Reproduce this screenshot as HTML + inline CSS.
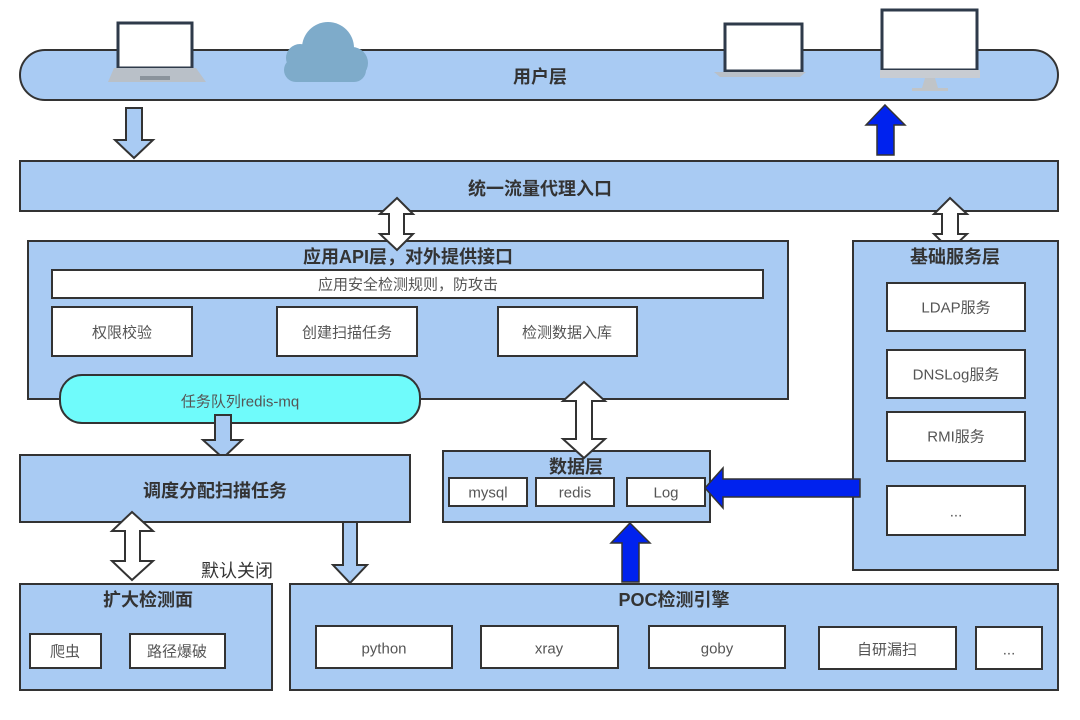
<!DOCTYPE html>
<html><head><meta charset="utf-8"><style>
html,body{margin:0;padding:0;background:#fff}
svg{display:block}
text{font-family:"Liberation Sans","Noto Sans CJK SC",sans-serif;text-anchor:middle;dominant-baseline:central}
.b{fill:#a9cbf3;stroke:#333;stroke-width:2}
.w{fill:#fff;stroke:#333;stroke-width:2}
.t{font-size:18px;font-weight:bold;fill:#333}
.s{font-size:15px;fill:#555}
</style></head><body>
<svg width="1080" height="720" viewBox="0 0 1080 720">
<rect x="20" y="50" width="1038" height="50" rx="25" class="b"/>
<text x="540" y="77" class="t">用户层</text>
<rect x="118" y="23" width="74" height="45" fill="#fff" stroke="#2e3a4a" stroke-width="3"/>
<polygon points="114,68 196,68 206,82 108,82" fill="#b9c0c8"/>
<rect x="140" y="76" width="30" height="4" fill="#8a939c"/>
<g fill="#7eabca"><circle cx="300" cy="58" r="14"/><circle cx="328" cy="48" r="26"/><circle cx="352" cy="63" r="16"/><rect x="284" y="58" width="82" height="24" rx="12"/></g>
<rect x="725" y="24" width="77" height="47" fill="#fff" stroke="#2e3a4a" stroke-width="3"/>
<polygon points="714,72 806,72 800,77 720,77" fill="#b9c0c8"/>
<rect x="882" y="10" width="95" height="60" fill="#fff" stroke="#2e3a4a" stroke-width="3"/>
<rect x="880" y="70" width="100" height="8" fill="#c8ccd2"/>
<polygon points="925,78 935,78 938,88 922,88" fill="#c0c4c8"/>
<rect x="912" y="88" width="36" height="3" fill="#c0c4c8"/>
<polygon points="126,108 142,108 142,140 153,140 134,158 115,140 126,140" class="b"/>
<polygon points="885,105 905,125 894,125 894,155 877,155 877,125 866,125" fill="#0022ee" stroke="#333" stroke-width="1.5"/>
<rect x="20" y="161" width="1038" height="50" class="b"/>
<text x="540" y="189" class="t">统一流量代理入口</text>
<rect x="28" y="241" width="760" height="158" class="b"/>
<text x="408" y="257" class="t">应用API层，对外提供接口</text>
<rect x="52" y="270" width="711" height="28" class="w"/>
<text x="408" y="285" class="s">应用安全检测规则，防攻击</text>
<rect x="52" y="307" width="140" height="49" class="w"/><text x="122" y="333" class="s">权限校验</text>
<rect x="277" y="307" width="140" height="49" class="w"/><text x="347" y="333" class="s">创建扫描任务</text>
<rect x="498" y="307" width="139" height="49" class="w"/><text x="567" y="333" class="s">检测数据入库</text>
<rect x="60" y="375" width="360" height="48" rx="22" fill="#6ffbfb" stroke="#333" stroke-width="2"/>
<text x="240" y="402" class="s" fill="#444">任务队列redis-mq</text>
<polygon points="397,198 413,214 404,214 404,234 413,234 397,250 380,234 389,234 389,214 380,214" class="w"/>
<polygon points="950,198 967,214 958,214 958,234 967,234 950,250 934,234 942,234 942,214 934,214" class="w"/>
<rect x="853" y="241" width="205" height="329" class="b"/>
<text x="955" y="257" class="t">基础服务层</text>
<rect x="887" y="283" width="138" height="48" class="w"/><text x="956" y="308" class="s">LDAP服务</text>
<rect x="887" y="350" width="138" height="48" class="w"/><text x="956" y="375" class="s">DNSLog服务</text>
<rect x="887" y="412" width="138" height="49" class="w"/><text x="956" y="437" class="s">RMI服务</text>
<rect x="887" y="486" width="138" height="49" class="w"/><text x="956" y="512" class="s">...</text>
<polygon points="215,415 231,415 231,440 242,440 223,458 203,440 215,440" class="b"/>
<rect x="20" y="455" width="390" height="67" class="b"/>
<text x="215" y="491" class="t">调度分配扫描任务</text>
<rect x="443" y="451" width="267" height="71" class="b"/>
<text x="576" y="467" class="t">数据层</text>
<rect x="449" y="478" width="78" height="28" class="w"/><text x="488" y="493" class="s">mysql</text>
<rect x="536" y="478" width="78" height="28" class="w"/><text x="575" y="493" class="s">redis</text>
<rect x="627" y="478" width="78" height="28" class="w"/><text x="666" y="493" class="s">Log</text>
<polygon points="584,382 605,401 592,401 592,439 605,439 584,458 563,439 576,439 576,401 563,401" class="w"/>
<polygon points="705,488 723,468 723,479 860,479 860,497 723,497 723,508" fill="#0022ee" stroke="#333" stroke-width="1.5"/>
<polygon points="630,523 650,543 639,543 639,582 622,582 622,543 611,543" fill="#0022ee" stroke="#333" stroke-width="1.5"/>
<polygon points="132,512 153,531 140,531 140,561 153,561 132,580 112,561 125,561 125,531 112,531" class="w"/>
<text x="237" y="571" style="font-size:18px;fill:#333">默认关闭</text>
<polygon points="343,522 357,522 357,565 367,565 350,583 333,565 343,565" class="b"/>
<rect x="20" y="584" width="252" height="106" class="b"/>
<text x="148" y="600" class="t">扩大检测面</text>
<rect x="30" y="634" width="71" height="34" class="w"/><text x="65" y="652" class="s">爬虫</text>
<rect x="130" y="634" width="95" height="34" class="w"/><text x="177" y="652" class="s">路径爆破</text>
<rect x="290" y="584" width="768" height="106" class="b"/>
<text x="674" y="600" class="t">POC检测引擎</text>
<rect x="316" y="626" width="136" height="42" class="w"/><text x="384" y="649" class="s">python</text>
<rect x="481" y="626" width="137" height="42" class="w"/><text x="549" y="649" class="s">xray</text>
<rect x="649" y="626" width="136" height="42" class="w"/><text x="717" y="649" class="s">goby</text>
<rect x="819" y="627" width="137" height="42" class="w"/><text x="887" y="650" class="s" fill="#222">自研漏扫</text>
<rect x="976" y="627" width="66" height="42" class="w"/><text x="1009" y="650" class="s">...</text>
</svg>
</body></html>
